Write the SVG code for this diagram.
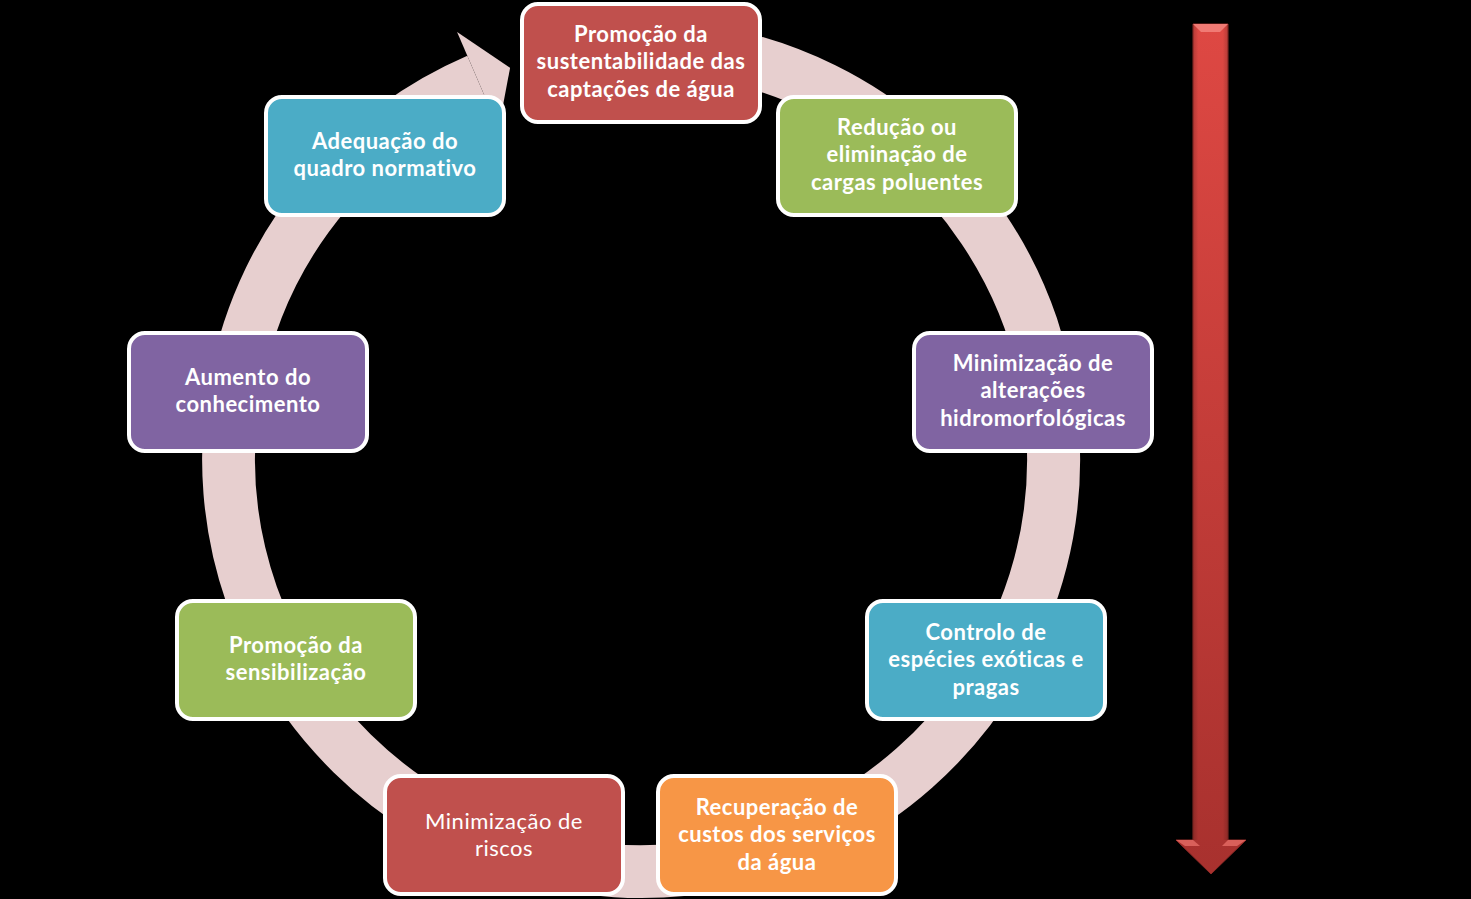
<svg xmlns="http://www.w3.org/2000/svg" width="1471" height="899" viewBox="0 0 1471 899">
<defs>
<style>
.box{stroke:#FFFFFF;stroke-width:4}
.red{fill:#C0504D}.green{fill:#9BBB59}.purple{fill:#8064A2}.cyan{fill:#4BACC6}.orange{fill:#F79646}
text{font-family:Lato,"Open Sans","Liberation Sans",sans-serif;font-size:22px;letter-spacing:0.5px;fill:#FFFFFF;text-anchor:middle}
.b{font-weight:bold}
.ring{fill:none;stroke:#E7CFCF;stroke-width:53}
</style>
<linearGradient id="shaft" x1="0" y1="0" x2="0" y2="1">
<stop offset="0" stop-color="#DE4843"/>
<stop offset="1" stop-color="#A8312E"/>
</linearGradient>
<linearGradient id="shaftH" x1="0" y1="0" x2="1" y2="0">
<stop offset="0" stop-color="#000000" stop-opacity="0.18"/>
<stop offset="0.15" stop-color="#000000" stop-opacity="0"/>
<stop offset="0.85" stop-color="#000000" stop-opacity="0"/>
<stop offset="1" stop-color="#000000" stop-opacity="0.18"/>
</linearGradient>
</defs>
<rect width="1471" height="899" fill="#000000"/>
<g id="connectors">
<path class="ring" d="M641,46.5 A412.5,412.5 0 1 1 477.8,80.2"/>
<polygon points="457.1,31.9 510.1,67.8 498.6,128.4" fill="#E7CFCF"/>
</g>
<g id="scale-arrow">
<path d="M1193,24 L1228,24 L1228,840 L1246,840 L1211,874 L1176,840 L1193,840 Z" fill="url(#shaft)" stroke="#8E2A27" stroke-width="1"/>
<rect x="1193" y="24" width="35" height="816" fill="url(#shaftH)"/>
<polygon points="1193,24 1228,24 1220,32 1201,32" fill="#F07A74"/>
<polygon points="1176,840 1193,840 1200,846 1185,846" fill="#D9605A"/>
<polygon points="1228,840 1246,840 1237,846 1222,846" fill="#D9605A"/>
</g>
<g id="n1"><rect class="box red" x="522" y="4" width="238" height="118" rx="16"/>
<text class="b" x="641" y="42">Promoção da</text><text class="b" x="641" y="69">sustentabilidade das</text><text class="b" x="641" y="97">captações de água</text></g>
<g id="n2"><rect class="box green" x="778" y="97" width="238" height="118" rx="16"/>
<text class="b" x="897" y="135">Redução ou</text><text class="b" x="897" y="162">eliminação de</text><text class="b" x="897" y="190">cargas poluentes</text></g>
<g id="n3"><rect class="box purple" x="914" y="333" width="238" height="118" rx="16"/>
<text class="b" x="1033" y="371">Minimização de</text><text class="b" x="1033" y="398">alterações</text><text class="b" x="1033" y="426">hidromorfológicas</text></g>
<g id="n4"><rect class="box cyan" x="867" y="601" width="238" height="118" rx="16"/>
<text class="b" x="986" y="640">Controlo de</text><text class="b" x="986" y="667">espécies exóticas e</text><text class="b" x="986" y="695">pragas</text></g>
<g id="n5"><rect class="box orange" x="658" y="776" width="238" height="118" rx="16"/>
<text class="b" x="777" y="815">Recuperação de</text><text class="b" x="777" y="842">custos dos serviços</text><text class="b" x="777" y="870">da água</text></g>
<g id="n6"><rect class="box red" x="385" y="776" width="238" height="118" rx="16"/>
<text x="504" y="829">Minimização de</text><text x="504" y="856">riscos</text></g>
<g id="n7"><rect class="box green" x="177" y="601" width="238" height="118" rx="16"/>
<text class="b" x="296" y="653">Promoção da</text><text class="b" x="296" y="680">sensibilização</text></g>
<g id="n8"><rect class="box purple" x="129" y="333" width="238" height="118" rx="16"/>
<text class="b" x="248" y="385">Aumento do</text><text class="b" x="248" y="412">conhecimento</text></g>
<g id="n9"><rect class="box cyan" x="266" y="97" width="238" height="118" rx="16"/>
<text class="b" x="385" y="149">Adequação do</text><text class="b" x="385" y="176">quadro normativo</text></g>
</svg>
